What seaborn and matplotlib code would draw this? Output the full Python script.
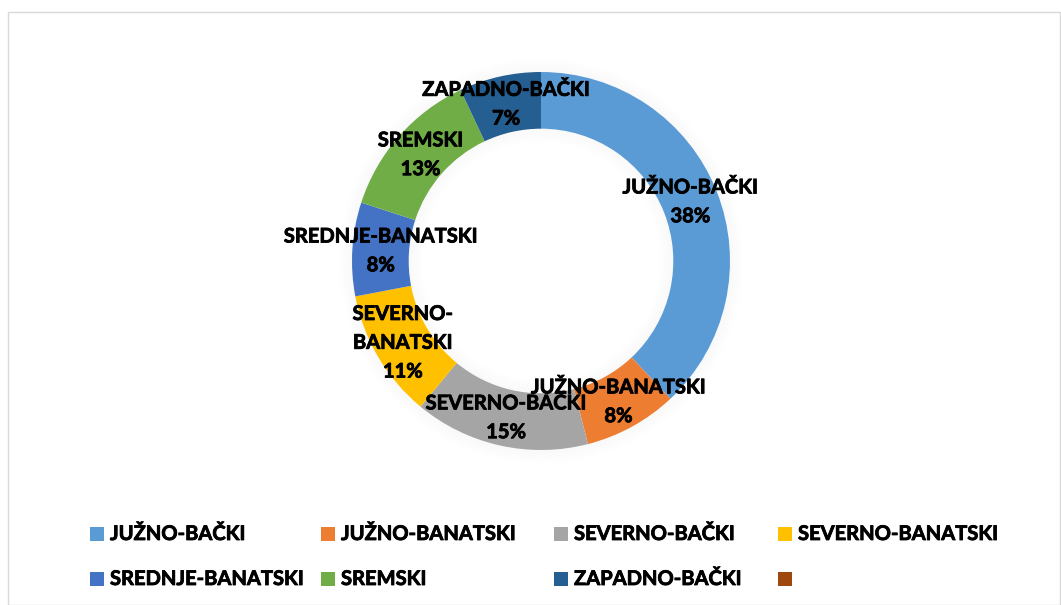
import numpy as np
import pandas as pd
import matplotlib
matplotlib.use("Agg")
import matplotlib.pyplot as plt
import matplotlib.patheffects as pe
from matplotlib.patches import Rectangle, Wedge
import seaborn as sns

# data (share of total, %)
regions = [
    "JUŽNO-BAČKI",
    "JUŽNO-BANATSKI",
    "SEVERNO-BAČKI",
    "SEVERNO-BANATSKI",
    "SREDNJE-BANATSKI",
    "SREMSKI",
    "ZAPADNO-BAČKI",
]
shares = [38, 8, 15, 11, 8, 13, 7]
colors = ["#5B9BD5", "#ED7D31", "#A5A5A5", "#FFC000",
          "#4472C4", "#70AD47", "#255E91", "#9E480E"]
legend_labels = regions + [""]  # Excel shows an 8th, empty entry

df = pd.DataFrame({"region": regions, "share": shares})

sns.set_theme(style="white")
plt.rcParams["font.family"] = ["Lato", "DejaVu Sans"]

W, H = 1061, 605
fig = plt.figure(figsize=(W / 100, H / 100), dpi=100)

# chart area border
fig.patches.append(Rectangle((8 / W, 0), (W - 9) / W, (H - 12) / H,
                             transform=fig.transFigure, fill=False,
                             edgecolor="#D9D9D9", linewidth=1))

cx, cy, R = 541, 261, 189
ax = fig.add_axes([(cx - R) / W, (H - cy - R) / H, 2 * R / W, 2 * R / H])
ring = 0.30

# soft shadow around the ring
for k in range(10):
    a = 0.045 * (1 - k / 10)
    ax.add_patch(Wedge((0, 0), 1 + 0.007 * (k + 1), 0, 360, width=0.007,
                       color="#808080", alpha=a, lw=0, clip_on=False, zorder=0))
    ax.add_patch(Wedge((0, 0), 1 - ring - 0.007 * k, 0, 360, width=0.007,
                       color="#808080", alpha=a, lw=0, clip_on=False, zorder=0))

wedges, _ = ax.pie(df["share"], colors=colors[:len(df)], startangle=90,
                   counterclock=False, radius=1,
                   wedgeprops=dict(width=ring, edgecolor="none"))
ax.set_xlim(-1, 1)
ax.set_ylim(-1, 1)
ax.set_aspect("equal")
ax.axis("off")

bold = [pe.withStroke(linewidth=0.6, foreground="black")]
fs = 14.5

wrap = {"SEVERNO-BANATSKI": "SEVERNO-\nBANATSKI"}
rmid = 1 - ring / 2
for w, name, v in zip(wedges, df["region"], df["share"]):
    ang = np.deg2rad((w.theta1 + w.theta2) / 2)
    ax.text(rmid * np.cos(ang), rmid * np.sin(ang),
            f"{wrap.get(name, name)}\n{v}%", ha="center", va="center",
            multialignment="center", fontsize=fs, fontweight="bold",
            color="black", linespacing=1.55, zorder=5, clip_on=False,
            path_effects=bold)

# legend, laid out like Excel's (4 columns, 2 rows)
leg_x = [90, 321, 554, 778]
leg_y = [534, 579]
for i, (lab, col) in enumerate(zip(legend_labels, colors)):
    row, c = divmod(i, 4)
    x, y = leg_x[c], leg_y[row]
    fig.patches.append(Rectangle((x / W, (H - y - 7) / H), 14 / W, 14 / H,
                                 transform=fig.transFigure, color=col, lw=0))
    fig.text((x + 20) / W, (H - y) / H, lab, va="center", ha="left",
             fontsize=fs, fontweight="bold", color="black", path_effects=bold)

fig.savefig("out.png", dpi=100)
